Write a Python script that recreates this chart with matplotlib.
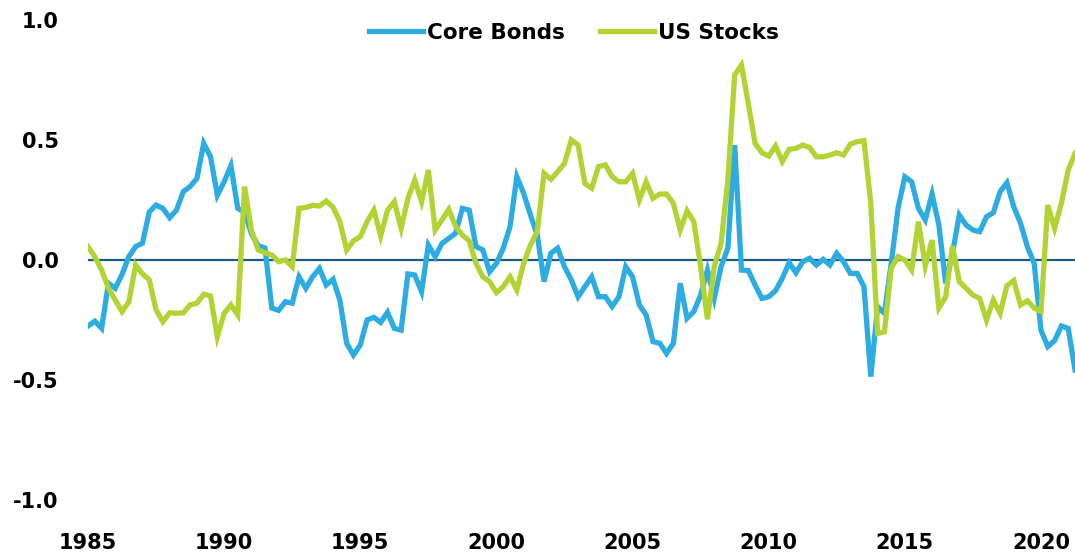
import numpy as np
import matplotlib
matplotlib.use("Agg")
import matplotlib.pyplot as plt

# quarterly observations, 1985Q1 .. 2021Q2
start_year = 1985
n_quarters = 146

core_bonds = [
    -0.275, -0.255, -0.285, -0.097, -0.118, -0.06, 0.014, 0.056, 0.07, 0.2,
    0.229, 0.215, 0.176, 0.208, 0.285, 0.306, 0.34, 0.486, 0.43, 0.27,
    0.326, 0.393, 0.215, 0.2, 0.11, 0.06, 0.05, -0.2, -0.21, -0.174,
    -0.18, -0.07, -0.118, -0.07, -0.035, -0.104, -0.08, -0.167, -0.347, -0.396,
    -0.354, -0.25, -0.239, -0.26, -0.218, -0.285, -0.292, -0.058, -0.0625, -0.132,
    0.0625, 0.014, 0.069, 0.09, 0.111, 0.215, 0.208, 0.056, 0.042, -0.049,
    -0.014, 0.049, 0.139, 0.347, 0.278, 0.1875, 0.104, -0.09, 0.028, 0.049,
    -0.028, -0.083, -0.153, -0.111, -0.07, -0.153, -0.153, -0.194, -0.153, -0.028,
    -0.07, -0.1875, -0.229, -0.34, -0.347, -0.389, -0.347, -0.097, -0.243, -0.215,
    -0.146, -0.042, -0.16, -0.028, 0.049, 0.479, -0.042, -0.044, -0.104, -0.16,
    -0.153, -0.128, -0.076, -0.011, -0.053, -0.007, 0.007, -0.021, 0.003, -0.021,
    0.028, -0.007, -0.056, -0.056, -0.111, -0.486, -0.194, -0.222, -0.014, 0.215,
    0.347, 0.326, 0.215, 0.167, 0.275, 0.146, -0.097, 0.028, 0.1875, 0.146,
    0.125, 0.118, 0.18, 0.197, 0.285, 0.322, 0.222, 0.153, 0.056, -0.014,
    -0.292, -0.361, -0.336, -0.275, -0.285, -0.458,
]

us_stocks = [
    0.056, 0.014, -0.042, -0.118, -0.167, -0.215, -0.174, -0.021, -0.058, -0.083,
    -0.208, -0.257, -0.22, -0.222, -0.22, -0.1875, -0.18, -0.143, -0.15, -0.32,
    -0.222, -0.1875, -0.229, 0.306, 0.125, 0.042, 0.03, 0.021, -0.007, 0.0,
    -0.028, 0.215, 0.219, 0.228, 0.225, 0.246, 0.22, 0.16, 0.042, 0.08,
    0.097, 0.16, 0.208, 0.1, 0.208, 0.243, 0.132, 0.257, 0.333, 0.243,
    0.375, 0.125, 0.167, 0.211, 0.14, 0.104, 0.08, -0.014, -0.07, -0.09,
    -0.136, -0.111, -0.07, -0.125, -0.014, 0.0625, 0.118, 0.361, 0.336, 0.368,
    0.403, 0.5, 0.479, 0.319, 0.299, 0.389, 0.396, 0.347, 0.326, 0.326,
    0.361, 0.25, 0.326, 0.257, 0.275, 0.275, 0.236, 0.125, 0.205, 0.16,
    -0.028, -0.247, -0.028, 0.069, 0.333, 0.771, 0.8125, 0.653, 0.486, 0.447,
    0.433, 0.475, 0.41, 0.461, 0.465, 0.479, 0.469, 0.43, 0.43, 0.4375,
    0.447, 0.4375, 0.483, 0.493, 0.497, 0.236, -0.306, -0.299, -0.035, 0.014,
    0.0, -0.042, 0.16, -0.025, 0.083, -0.2, -0.153, 0.058, -0.09, -0.118,
    -0.146, -0.16, -0.25, -0.167, -0.222, -0.107, -0.086, -0.1875, -0.17, -0.2,
    -0.215, 0.229, 0.132, 0.236, 0.375, 0.444,
]

year_ticks = [1985, 1990, 1995, 2000, 2005, 2010, 2015, 2020]
value_ticks = [-1.0, -0.5, 0.0, 0.5, 1.0]

years = start_year + np.arange(n_quarters) / 4.0

plt.rcParams['font.family'] = ['DejaVu Sans']

fig = plt.figure(figsize=(10.75, 5.56), dpi=100)
ax = fig.add_axes([88 / 1075, 56 / 556, 987 / 1075, 480 / 556])

ax.axhline(0, color='#1d5b87', lw=1.6, zorder=1)
ax.plot(years, core_bonds, color='#2cace2', lw=3.8, label='Core Bonds',
        solid_joinstyle='miter', zorder=2)
ax.plot(years, us_stocks, color='#b3d334', lw=3.8, label='US Stocks',
        solid_joinstyle='miter', zorder=3)

ax.set_xlim(years[0], years[-1])
ax.set_ylim(-1.0, 1.0)
ax.set_xticks(year_ticks)
ax.set_xticklabels([str(y) for y in year_ticks])
ax.set_yticks(value_ticks)
ax.set_yticklabels([f'{v:.1f}' for v in value_ticks])

for s in ax.spines.values():
    s.set_visible(False)
ax.tick_params(axis='both', length=0, labelsize=15, colors='black')
ax.tick_params(axis='y', pad=21)
ax.tick_params(axis='x', pad=24)
for lab in ax.get_xticklabels() + ax.get_yticklabels():
    lab.set_fontweight('bold')

fig.legend(loc='center', bbox_to_anchor=(0.534, 0.941), ncol=2, frameon=False,
           handlelength=2.5, handletextpad=0.2, columnspacing=1.6,
           prop={'weight': 'bold', 'size': 15.5})

fig.savefig('out.png', dpi=100)
